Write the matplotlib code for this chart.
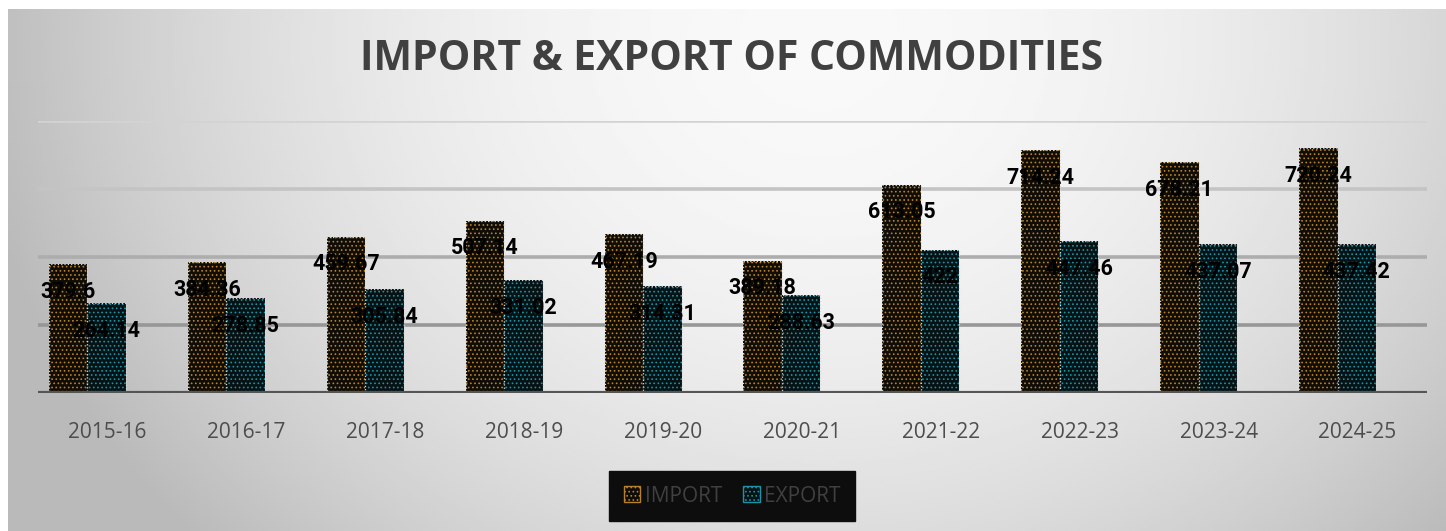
import matplotlib
matplotlib.use("Agg")
import matplotlib.pyplot as plt
import numpy as np
from matplotlib.patches import Patch

years = ["2015-16", "2016-17", "2017-18", "2018-19", "2019-20",
         "2020-21", "2021-22", "2022-23", "2023-24", "2024-25"]
imports = [379.6, 384.36, 459.67, 507.14, 467.19, 389.18, 613.05, 714.24, 678.21, 720.24]
exports = [264.14, 278.85, 305.84, 331.02, 314.31, 288.63, 422, 447.46, 437.07, 437.42]
series_names = ["IMPORT", "EXPORT"]

W, H = 1446, 531
fig = plt.figure(figsize=(W / 100, H / 100), dpi=100)

# soft radial background, bright near the top centre
bg = fig.add_axes([8 / W, 0, 1 - 8 / W, 1 - 9 / H], zorder=-10)
gx, gy = np.meshgrid(np.linspace(8, W, 400), np.linspace(9, H, 200))
d2 = ((gx - 820) ** 2 + ((gy - 40) * 1.15) ** 2)
shade = np.clip(0.975 - 3.4e-7 * d2, 0.73, 1)
bg.imshow(shade, cmap="gray", vmin=0, vmax=1, aspect="auto",
          extent=[0, 1, 0, 1], interpolation="bilinear")
bg.axis("off")

ax = fig.add_axes([38 / W, (H - 393) / H, 1389 / W, 272 / H])
ax.set_facecolor("none")
ax.set_xlim(-0.5, 9.5)
ax.set_ylim(0, 800)

# horizontal gridlines, darker towards the bottom
for yv, c in zip([200, 400, 600, 800], ["#979797", "#adadad", "#c4c4c4", "#d3d3d3"]):
    ax.axhline(yv, color=c, lw=2.6, zorder=0)
ax.axhline(0, color="#555555", lw=3, zorder=3)

x = np.arange(len(years))
bw = 0.277
shift = -0.144
styles = [("#100c06", "#b8822a"), ("#061214", "#1a94a6")]
plt.rcParams["hatch.linewidth"] = 0.7

for k, vals in enumerate([imports, exports]):
    pos = x + shift + (k - 0.5) * bw
    fc, hc = styles[k]
    ax.bar(pos, vals, width=bw, color=fc, edgecolor=hc, hatch="....", lw=0, zorder=2)
    ax.bar(pos, vals, width=bw, fill=False, edgecolor="#d8d8d8", lw=0.9,
           linestyle=":", zorder=2)
    for p, v in zip(pos, vals):
        ax.annotate(f"{v:g}", (p, v), xytext=(0, -20), textcoords="offset points",
                    ha="center", va="center", fontsize=15.5, fontweight="bold",
                    family="Roboto", color="black", zorder=5)

for s in ax.spines.values():
    s.set_visible(False)
ax.set_yticks([])
ax.set_xticks(x)
ax.set_xticklabels(years, family="Open Sans", fontsize=15, color="#4d4d4d")
ax.tick_params(axis="x", length=0, pad=21)

fig.text(732 / W, 1 - 60 / H, "IMPORT & EXPORT OF COMMODITIES", ha="center", va="center",
         family="Open Sans", fontweight="bold", fontsize=29.5, color="#404040")

handles = [Patch(facecolor=styles[k][0], edgecolor=styles[k][1], hatch="....",
                 label=series_names[k]) for k in range(2)]
leg = fig.legend(handles=handles, loc="center", ncol=2,
                 bbox_to_anchor=(732 / W, 1 - 496 / H), bbox_transform=fig.transFigure,
                 frameon=True, facecolor="#0d0d0d", edgecolor="#0d0d0d", framealpha=1,
                 fancybox=False, handlelength=0.8, handleheight=0.8, handletextpad=0.2,
                 columnspacing=1.0, borderpad=0.7,
                 prop={"family": "Open Sans", "size": 15})
for t in leg.get_texts():
    t.set_color("#404040")

fig.savefig("out.png", dpi=100)
